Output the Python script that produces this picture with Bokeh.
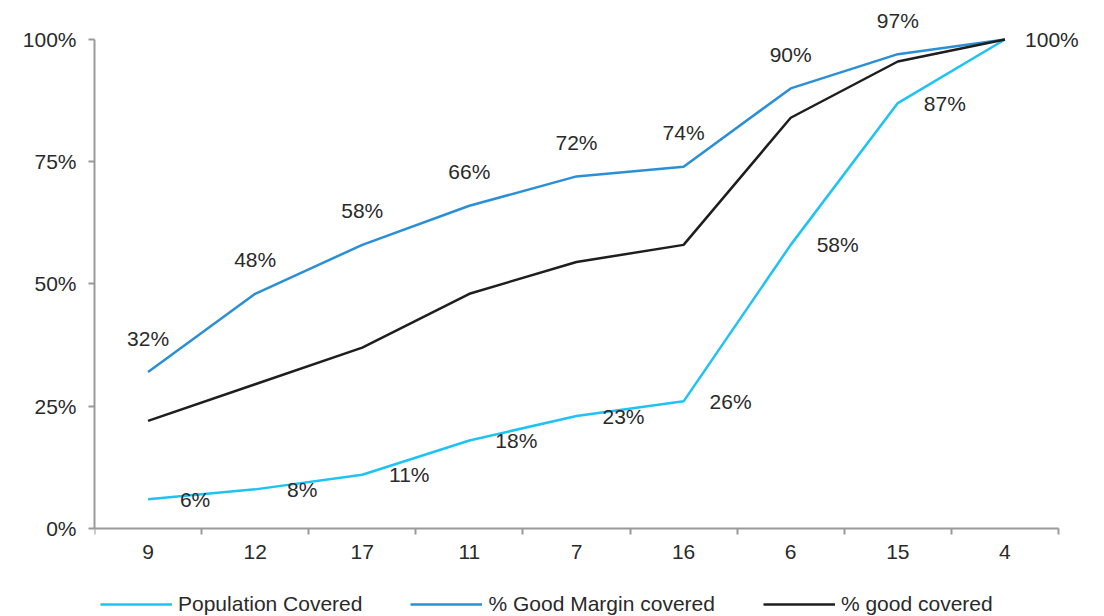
from bokeh.plotting import figure
from bokeh.models import Range1d, FixedTicker, ColumnDataSource, LabelSet, Legend, LegendItem
from bokeh.core.properties import value
from bokeh.embed import file_html
from bokeh.resources import INLINE

categories = ["9", "12", "17", "11", "7", "16", "6", "15", "4"]
population_covered = [6, 8, 11, 18, 23, 26, 58, 87, 100]
good_margin_covered = [32, 48, 58, 66, 72, 74, 90, 97, 100]
good_covered = [22, 29.5, 37, 48, 54.5, 58, 84, 95.5, 100]
y_ticks = [0, 25, 50, 75, 100]
y_tick_labels = ["0%", "25%", "50%", "75%", "100%"]
series_names = ["Population Covered", "% Good Margin covered", "% good covered"]

CYAN = "#1cc3f3"
BLUE = "#2b8fd6"
BLACK = "#1e1e1e"
AXIS = "#9a9a9a"
TEXT = "#2a2a2a"
FONT = "Liberation Sans"
FS = "21px"

x = [i + 0.5 for i in range(len(categories))]
n = len(categories)

p = figure(width=1100, height=616,
           x_range=Range1d(0, 9.299), y_range=Range1d(-18.0, 106.34),
           output_backend="svg", toolbar_location=None,
           min_border_left=94, min_border_right=10, min_border_top=8, min_border_bottom=0)
p.outline_line_color = None
p.xgrid.visible = False
p.ygrid.visible = False

xa = p.xaxis[0]
xa.fixed_location = 0
xa.ticker = FixedTicker(ticks=x, minor_ticks=list(range(n + 1)))
xa.major_label_overrides = {xi: c for xi, c in zip(x, categories)}
xa.bounds = (0, n)
xa.major_tick_out = 0
xa.major_tick_in = 0
xa.minor_tick_out = 6
xa.minor_tick_in = 0
xa.minor_tick_line_color = AXIS
xa.minor_tick_line_width = 2
xa.axis_line_color = AXIS
xa.axis_line_width = 2
xa.major_label_standoff = 11
xa.major_label_text_font = FONT
xa.major_label_text_font_size = FS
xa.major_label_text_color = TEXT

ya = p.yaxis[0]
ya.ticker = FixedTicker(ticks=y_ticks, minor_ticks=[])
ya.major_label_overrides = {t: l for t, l in zip(y_ticks, y_tick_labels)}
ya.bounds = (0, 100)
ya.major_tick_out = 6
ya.major_tick_in = 0
ya.major_tick_line_color = AXIS
ya.major_tick_line_width = 2
ya.axis_line_color = AXIS
ya.axis_line_width = 2
ya.major_label_standoff = 12
ya.major_label_text_font = FONT
ya.major_label_text_font_size = FS
ya.major_label_text_color = TEXT

r_pop = p.line(x, population_covered, line_color=CYAN, line_width=2.5)
r_gm = p.line(x, good_margin_covered, line_color=BLUE, line_width=2.5)
r_g = p.line(x, good_covered, line_color=BLACK, line_width=2.5)

src_pop = ColumnDataSource(dict(x=x, y=population_covered,
                                t=[f"{v}%" for v in population_covered]))
src_gm = ColumnDataSource(dict(x=x[:-1], y=good_margin_covered[:-1],
                               t=[f"{v}%" for v in good_margin_covered[:-1]]))

for src, xo, yo in ((src_pop, 47, 0), (src_gm, 0, 34)):
    p.add_layout(LabelSet(x="x", y="y", text="t", source=src, x_offset=xo, y_offset=yo,
                          text_align="center", text_baseline="middle",
                          text_font=value(FONT), text_font_size=value(FS), text_color=TEXT))

legend = Legend(items=[LegendItem(label=series_names[0], renderers=[r_pop]),
                       LegendItem(label=series_names[1], renderers=[r_gm]),
                       LegendItem(label=series_names[2], renderers=[r_g])],
                location=(6, 0), orientation="horizontal",
                glyph_width=72, label_standoff=6, spacing=48,
                padding=0, margin=0, border_line_color=None, background_fill_alpha=0,
                label_text_font=FONT, label_text_font_size=FS, label_text_color=TEXT)
p.add_layout(legend)

open("out.html", "w").write(file_html(p, INLINE))
